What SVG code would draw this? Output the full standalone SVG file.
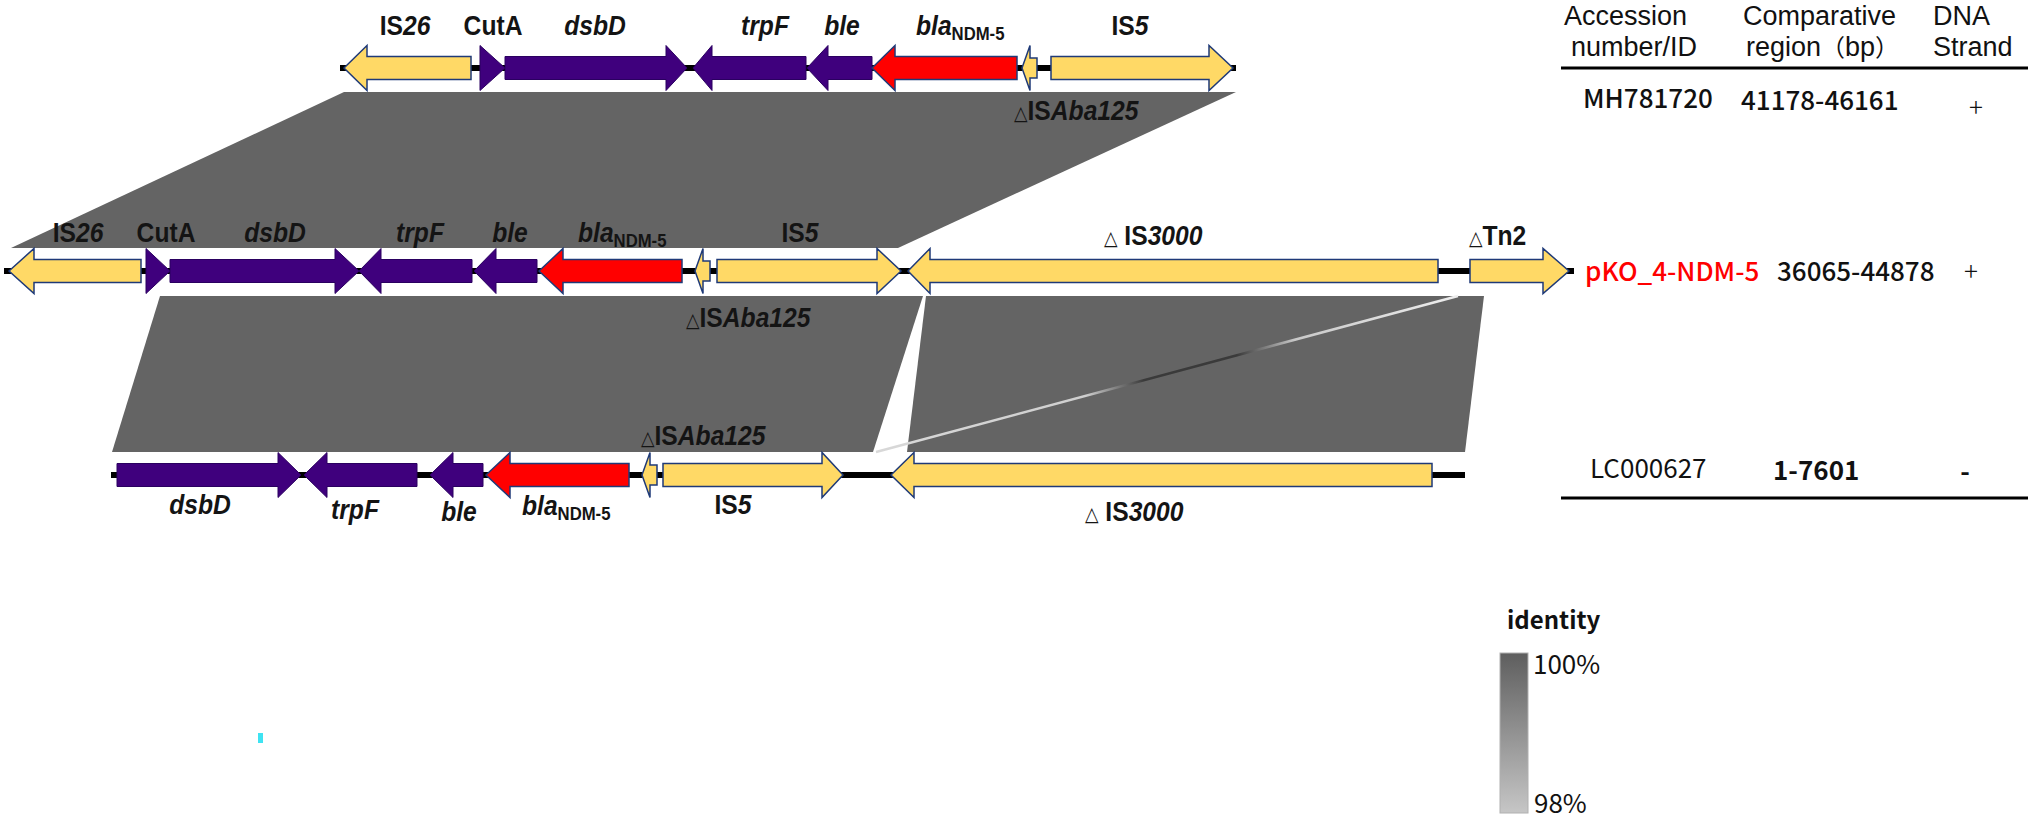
<svg xmlns="http://www.w3.org/2000/svg" width="2032" height="818" viewBox="0 0 2032 818">
<defs>
<style>
.band{fill:#646464}
.bb{stroke:#000;stroke-width:6}
.y{fill:#FFD966;stroke:#1F3A78;stroke-width:1.5;stroke-linejoin:miter}
.p{fill:#3F007D;stroke:#2a0060;stroke-width:1}
.r{fill:#FF0000;stroke:#1F3A78;stroke-width:1.5}
.lab{font-family:"Liberation Sans",Arial,sans-serif;font-size:28px;font-weight:700;fill:#141414}
.it{font-style:italic}
.sub{font-size:19px}
.tri{font-family:"DejaVu Sans",sans-serif;font-size:20px;font-weight:400}
.tb{font-family:"Noto Sans CJK JP","Noto Sans",sans-serif;font-size:26px;font-weight:500;fill:#111}
.th{font-family:"Liberation Sans","Noto Sans CJK JP",sans-serif;font-size:27px;fill:#111}
.rule{stroke:#000;stroke-width:3}
</style>
<linearGradient id="leg" x1="0" y1="0" x2="0" y2="1">
<stop offset="0" stop-color="#5e5e5e"/>
<stop offset="1" stop-color="#c6c6c6"/>
</linearGradient>
<linearGradient id="cross" gradientUnits="userSpaceOnUse" x1="876" y1="452" x2="1458" y2="296">
<stop offset="0" stop-color="#d8d8d8"/>
<stop offset="0.36" stop-color="#cfcfcf"/>
<stop offset="0.46" stop-color="#3a3a3a"/>
<stop offset="0.62" stop-color="#3a3a3a"/>
<stop offset="0.72" stop-color="#c8c8c8"/>
<stop offset="1" stop-color="#eeeeee"/>
</linearGradient>
</defs>
<rect width="2032" height="818" fill="#fff"/>

<g id="connectors">
<polygon class="band" points="344,92 1236,92 898,248 11,248"/>
<polygon class="band" points="160,296 923,296 873,452 112,452"/>
<polygon class="band" points="926,296 1484,296 1465,452 907,452"/>
<line x1="876" y1="452" x2="1458" y2="296" stroke="url(#cross)" stroke-width="2.5"/>
</g>

<g id="row-MH781720">
<line class="bb" x1="340" y1="68" x2="1236" y2="68"/>
<g id="t-IS26"><polygon class="y" points="344,68 367,45.5 367,56.5 471,56.5 471,79.5 367,79.5 367,90.5"/>
<text class="lab" transform="translate(405,35) scale(0.88,1)" text-anchor="middle">IS<tspan class="it">26</tspan></text></g>
<g id="t-CutA"><polygon class="p" points="480,45.5 505,68 480,90.5"/>
<text class="lab" transform="translate(493,35) scale(0.88,1)" text-anchor="middle">CutA</text></g>
<g id="t-dsbD"><polygon class="p" points="505,56.5 666,56.5 666,45.5 687,68 666,90.5 666,79.5 505,79.5"/>
<text class="lab it" transform="translate(595,35) scale(0.88,1)" text-anchor="middle">dsbD</text></g>
<g id="t-trpF"><polygon class="p" points="693,68 712,45.5 712,56.5 806,56.5 806,79.5 712,79.5 712,90.5"/>
<text class="lab it" transform="translate(765,35) scale(0.88,1)" text-anchor="middle">trpF</text></g>
<g id="t-ble"><polygon class="p" points="807,68 828,45.5 828,56.5 872,56.5 872,79.5 828,79.5 828,90.5"/>
<text class="lab it" transform="translate(842,35) scale(0.88,1)" text-anchor="middle">ble</text></g>
<g id="t-bla"><polygon class="r" points="872,68 895,45.5 895,56.5 1017,56.5 1017,79.5 895,79.5 895,90.5"/>
<text class="lab" transform="translate(916,35) scale(0.88,1)"><tspan class="it">bla</tspan><tspan class="sub" dy="5">NDM-5</tspan></text></g>
<g id="t-ISAba125"><polygon class="y" points="1022,68 1030,45.5 1030,58 1037,58 1037,78 1030,78 1030,90.5"/>
<text class="lab" transform="translate(1014,120) scale(0.88,1)"><tspan class="tri">△</tspan>IS<tspan class="it">Aba125</tspan></text></g>
<g id="t-IS5"><polygon class="y" points="1051,56.5 1209,56.5 1209,45.5 1233,68 1209,90.5 1209,79.5 1051,79.5"/>
<text class="lab" transform="translate(1130,35) scale(0.88,1)" text-anchor="middle">IS<tspan class="it">5</tspan></text></g>
</g>

<g id="row-pKO">
<line class="bb" x1="4" y1="271" x2="1574" y2="271"/>
<g id="m-IS26"><polygon class="y" points="9,271 34,248.5 34,259.5 141,259.5 141,282.5 34,282.5 34,293.5"/>
<text class="lab" transform="translate(78,242) scale(0.88,1)" text-anchor="middle">IS<tspan class="it">26</tspan></text></g>
<g id="m-CutA"><polygon class="p" points="146,248.5 170,271 146,293.5"/>
<text class="lab" transform="translate(166,242) scale(0.88,1)" text-anchor="middle">CutA</text></g>
<g id="m-dsbD"><polygon class="p" points="170,259.5 335,259.5 335,248.5 359,271 335,293.5 335,282.5 170,282.5"/>
<text class="lab it" transform="translate(275,242) scale(0.88,1)" text-anchor="middle">dsbD</text></g>
<g id="m-trpF"><polygon class="p" points="359,271 381,248.5 381,259.5 472,259.5 472,282.5 381,282.5 381,293.5"/>
<text class="lab it" transform="translate(420,242) scale(0.88,1)" text-anchor="middle">trpF</text></g>
<g id="m-ble"><polygon class="p" points="474,271 496,248.5 496,259.5 537,259.5 537,282.5 496,282.5 496,293.5"/>
<text class="lab it" transform="translate(510,242) scale(0.88,1)" text-anchor="middle">ble</text></g>
<g id="m-bla"><polygon class="r" points="539,271 563,248.5 563,259.5 682,259.5 682,282.5 563,282.5 563,293.5"/>
<text class="lab" transform="translate(578,242) scale(0.88,1)"><tspan class="it">bla</tspan><tspan class="sub" dy="5">NDM-5</tspan></text></g>
<g id="m-ISAba125"><polygon class="y" points="695,271 703,248.5 703,261 710,261 710,281 703,281 703,293.5"/>
<text class="lab" transform="translate(686,327) scale(0.88,1)"><tspan class="tri">△</tspan>IS<tspan class="it">Aba125</tspan></text></g>
<g id="m-IS5"><polygon class="y" points="717,259.5 877,259.5 877,248.5 901,271 877,293.5 877,282.5 717,282.5"/>
<text class="lab" transform="translate(800,242) scale(0.88,1)" text-anchor="middle">IS<tspan class="it">5</tspan></text></g>
<g id="m-IS3000"><polygon class="y" points="908,271 930,248.5 930,259.5 1438,259.5 1438,282.5 930,282.5 930,293.5"/>
<text class="lab" transform="translate(1104,245) scale(0.88,1)"><tspan class="tri">△</tspan> IS<tspan class="it">3000</tspan></text></g>
<g id="m-Tn2"><polygon class="y" points="1470,259.5 1543,259.5 1543,248.5 1569,271 1543,293.5 1543,282.5 1470,282.5"/>
<text class="lab" transform="translate(1469,245) scale(0.88,1)"><tspan class="tri">△</tspan>Tn2</text></g>
</g>

<g id="row-LC000627">
<line class="bb" x1="111" y1="475" x2="1465" y2="475"/>
<g id="b-dsbD"><polygon class="p" points="117,463.5 278,463.5 278,452.5 301,475 278,497.5 278,486.5 117,486.5"/>
<text class="lab it" transform="translate(200,514) scale(0.88,1)" text-anchor="middle">dsbD</text></g>
<g id="b-trpF"><polygon class="p" points="304,475 327,452.5 327,463.5 417,463.5 417,486.5 327,486.5 327,497.5"/>
<text class="lab it" transform="translate(355,519) scale(0.88,1)" text-anchor="middle">trpF</text></g>
<g id="b-ble"><polygon class="p" points="430,475 453,452.5 453,463.5 483,463.5 483,486.5 453,486.5 453,497.5"/>
<text class="lab it" transform="translate(459,521) scale(0.88,1)" text-anchor="middle">ble</text></g>
<g id="b-bla"><polygon class="r" points="486,475 510,452.5 510,463.5 629,463.5 629,486.5 510,486.5 510,497.5"/>
<text class="lab" transform="translate(522,515) scale(0.88,1)"><tspan class="it">bla</tspan><tspan class="sub" dy="5">NDM-5</tspan></text></g>
<g id="b-ISAba125"><polygon class="y" points="642,475 650,452.5 650,465 657,465 657,485 650,485 650,497.5"/>
<text class="lab" transform="translate(641,445) scale(0.88,1)"><tspan class="tri">△</tspan>IS<tspan class="it">Aba125</tspan></text></g>
<g id="b-IS5"><polygon class="y" points="663,463.5 822,463.5 822,452.5 843,475 822,497.5 822,486.5 663,486.5"/>
<text class="lab" transform="translate(733,514) scale(0.88,1)" text-anchor="middle">IS<tspan class="it">5</tspan></text></g>
<g id="b-IS3000"><polygon class="y" points="891,475 914,452.5 914,463.5 1432,463.5 1432,486.5 914,486.5 914,497.5"/>
<text class="lab" transform="translate(1085,521) scale(0.88,1)"><tspan class="tri">△</tspan> IS<tspan class="it">3000</tspan></text></g>
</g>

<g id="table">
<text class="th" x="1564" y="25">Accession</text>
<text class="th" x="1571" y="56">number/ID</text>
<text class="th" x="1743" y="25">Comparative</text>
<text class="th" x="1746" y="56">region<tspan font-family="Noto Sans CJK JP" style="font-family:'Noto Sans CJK JP',sans-serif;font-size:24px">（</tspan>bp<tspan style="font-family:'Noto Sans CJK JP',sans-serif;font-size:24px">）</tspan></text>
<text class="th" x="1933" y="25">DNA</text>
<text class="th" x="1933" y="56">Strand</text>
<line class="rule" x1="1561" y1="68" x2="2028" y2="68"/>
<text class="tb" x="1583" y="108">MH781720</text>
<text class="tb" x="1741" y="110">41178-46161</text>
<text class="tb" x="1976" y="117" text-anchor="middle" style="font-weight:300">+</text>
<text class="tb" x="1585" y="281" style="fill:#FF0000">pKO_4-NDM-5</text>
<text class="tb" x="1777" y="281">36065-44878</text>
<text class="tb" x="1971" y="281" text-anchor="middle" style="font-weight:300">+</text>
<text class="tb" x="1590" y="478" style="font-weight:400">LC000627</text>
<text class="tb" x="1773" y="480" style="font-weight:700">1-7601</text>
<text class="tb" x="1965" y="481" text-anchor="middle" style="font-weight:700">-</text>
<line class="rule" x1="1561" y1="498" x2="2028" y2="498"/>
</g>

<g id="legend">
<text class="tb" x="1507" y="629" style="font-size:24px;font-weight:700">identity</text>
<rect x="1500" y="653" width="28" height="160" fill="url(#leg)" stroke="#b0b0b0" stroke-width="1"/>
<text class="tb" x="1533" y="674" style="font-weight:400">100%</text>
<text class="tb" x="1534" y="813" style="font-weight:400">98%</text>
</g>
<rect x="258" y="733" width="5" height="10" fill="#3fe3f2"/>
</svg>
